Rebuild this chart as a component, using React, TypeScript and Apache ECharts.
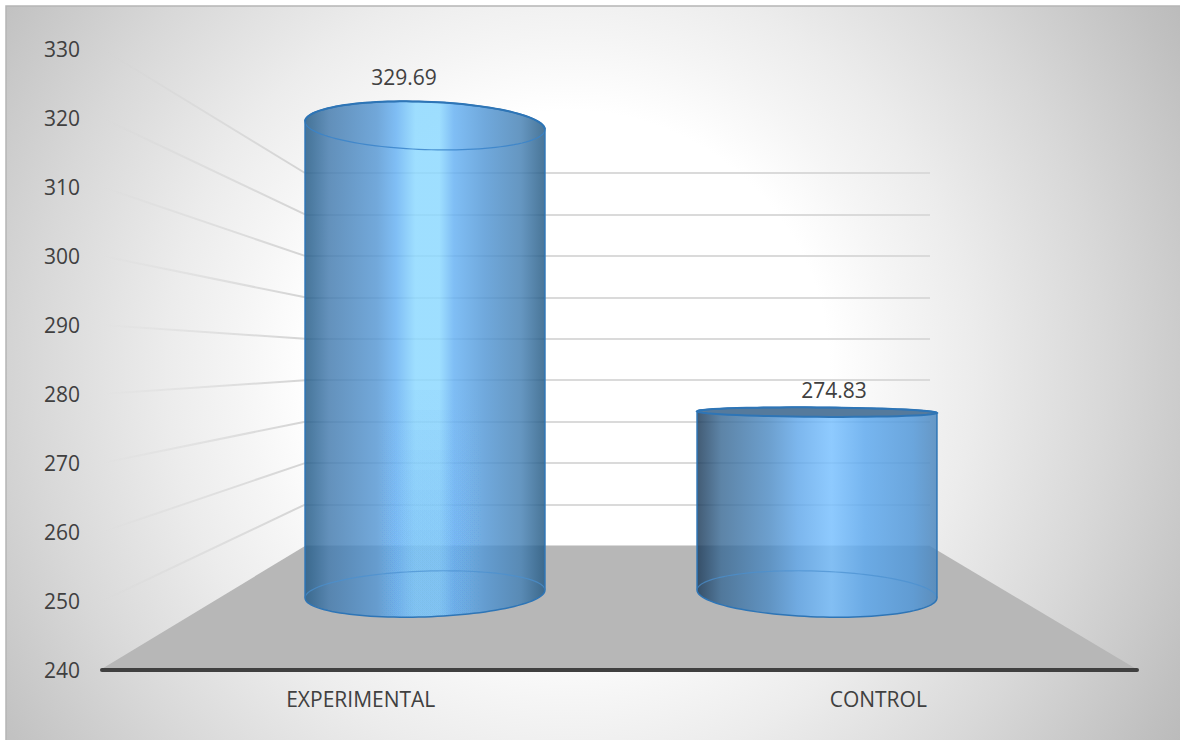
import React, { useEffect, useRef } from "react";
import * as echarts from "echarts";

// Mean scores by group, drawn as glass cylinders standing on a grey floor.
const categories = ["EXPERIMENTAL", "CONTROL"];
const scores = [329.69, 274.83];
const axisMin = 240;
const axisMax = 330;
const axisStep = 10;
const wallTicks = [250, 260, 270, 280, 290, 300, 310, 320, 330];

const FONT = "'Open Sans', sans-serif";
const TEXT = "#404040";

// Perspective of the scene: the horizon height and the point that rims lean away from.
const HORIZON_Y = 365;
const VANISH_X = 620;
const WALL = { left: 305, right: 930, top: 173, bottom: 546 };
const FRONT = { left: 102, right: 1137, top: 49, bottom: 670 };
const MID = { left: 229, right: 1013, top: 124, bottom: 594 };

const wallY = (v: number) =>
  WALL.bottom - ((v - axisMin) / (axisMax - axisMin)) * (WALL.bottom - WALL.top);

// Rim ellipse around (cx, cy); theta 0 is the right end, pi/2 the side nearest the viewer.
function rimPoint(cx: number, cy: number, rx: number, theta: number) {
  const ry = 0.1 * Math.abs(cy - HORIZON_Y);
  const lean = ((cx - VANISH_X) * (cy - HORIZON_Y)) / 11500;
  return [cx + rx * Math.cos(theta), cy + ry * Math.sin(theta) + lean * Math.cos(theta)];
}

function rimArc(cx: number, cy: number, rx: number, from: number, to: number) {
  const pts: number[][] = [];
  const n = 60;
  for (let i = 0; i <= n; i++) pts.push(rimPoint(cx, cy, rx, from + ((to - from) * i) / n));
  return pts;
}

const grad = (stops: [number, string][]) =>
  new echarts.graphic.LinearGradient(
    0,
    0,
    1,
    0,
    stops.map(([offset, color]) => ({ offset, color }))
  );

const bodyFills = [
  grad([
    [0, "#245a85"],
    [0.03, "#2b6391"],
    [0.1, "#447bae"],
    [0.3, "#5697d3"],
    [0.38, "#66b1f3"],
    [0.46, "#8bd8ff"],
    [0.56, "#8bd8ff"],
    [0.62, "#66b1f3"],
    [0.75, "#5397d5"],
    [0.9, "#4681b4"],
    [0.98, "#2b618c"],
    [1, "#245a85"],
  ]),
  grad([
    [0, "#1c3a58"],
    [0.1, "#3c6b95"],
    [0.3, "#4f8cc4"],
    [0.42, "#62a8ea"],
    [0.56, "#78c0ff"],
    [0.7, "#5ca8ee"],
    [0.9, "#4f96d8"],
    [1, "#4a85bc"],
  ]),
];

// The bright stripe dulls gradually towards the floor; stacked veils build that falloff.
const stripeVeil = grad([
  [0.3, "rgba(90,160,232,0)"],
  [0.46, "rgba(90,160,232,0.05)"],
  [0.56, "rgba(90,160,232,0.05)"],
  [0.75, "rgba(90,160,232,0)"],
]);
const VEIL_LAYERS = 8;
const VEIL_START = 390;
const VEIL_STEP = 20;

const labelShift = [
  { x: -21, y: -49 },
  { x: 17, y: -22 },
];

function renderCylinder(params: any, api: any) {
  const i = api.value(0);
  const value = api.value(1);
  const [cx, yTop] = api.coord([i, value]);
  const [, yBase] = api.coord([i, axisMin]);
  const rx = api.size([1, 0])[0] * 0.306;

  const bottomFront = rimArc(cx, yBase, rx, Math.PI, 0);
  const bottomBack = rimArc(cx, yBase, rx, Math.PI, 2 * Math.PI);
  const topBack = rimArc(cx, yTop, rx, 0, -Math.PI);
  const topFront = rimArc(cx, yTop, rx, 0, Math.PI);
  const topAll = rimArc(cx, yTop, rx, 0, 2 * Math.PI);
  const seenFromAbove = yTop > HORIZON_Y;
  const silhouette = [...bottomFront, ...topBack];

  const children: any[] = [
    {
      type: "polygon",
      shape: { points: silhouette },
      style: { fill: bodyFills[i], opacity: 0.83 },
    },
  ];

  if (seenFromAbove) {
    children.push(
      {
        type: "polyline",
        shape: { points: bottomBack },
        style: { fill: "none", stroke: "#4a90d0", lineWidth: 1.2, opacity: 0.7 },
      },
      {
        type: "polygon",
        shape: { points: topAll },
        style: { fill: "#557a9c", stroke: "#2e75b6", lineWidth: 2 },
      }
    );
  } else {
    for (let k = 0; k < VEIL_LAYERS; k++) {
      const y = VEIL_START + k * VEIL_STEP;
      children.push({
        type: "polygon",
        shape: { points: [...bottomFront, [cx + rx, y], [cx - rx, y]] },
        style: { fill: stripeVeil },
      });
    }
    children.push(
      {
        type: "polyline",
        shape: { points: bottomBack },
        style: { fill: "none", stroke: "#4a90d0", lineWidth: 1.2, opacity: 0.7 },
      },
      {
        type: "polyline",
        shape: { points: topFront },
        style: { fill: "none", stroke: "#3a84ca", lineWidth: 1.2, opacity: 0.85 },
      },
      {
        type: "polyline",
        shape: { points: topBack },
        style: { fill: "none", stroke: "#2e75b6", lineWidth: 2 },
      }
    );
  }

  children.push(
    {
      type: "polygon",
      shape: { points: silhouette },
      style: { fill: "none", stroke: "#2e75b6", lineWidth: 1.5 },
    },
    {
      type: "text",
      style: {
        text: value.toFixed(2),
        x: cx + labelShift[i].x,
        y: yTop + labelShift[i].y,
        fill: TEXT,
        fontFamily: FONT,
        fontSize: 21,
        align: "center",
        verticalAlign: "middle",
      },
    }
  );
  return { type: "group", children };
}

// Side-wall rule: runs from the front axis tick back to the same value on the rear wall.
function renderSideRule(params: any, api: any) {
  const v = api.value(0);
  const yFront = api.coord([0, v])[1];
  return {
    type: "line",
    shape: { x1: FRONT.left, y1: yFront, x2: WALL.left, y2: wallY(v) },
    style: {
      lineWidth: 2,
      stroke: new echarts.graphic.LinearGradient(0, 0, 1, 0, [
        { offset: 0, color: "rgba(205,205,205,0)" },
        { offset: 0.35, color: "rgba(205,205,205,0.3)" },
        { offset: 1, color: "rgba(205,205,205,0.85)" },
      ]),
    },
  };
}

function renderFloor(params: any, api: any) {
  const yFront = api.coord([0, axisMin])[1];
  return {
    type: "polygon",
    shape: {
      points: [
        [FRONT.left - 2, yFront],
        [WALL.left, wallY(axisMin)],
        [WALL.right, wallY(axisMin)],
        [FRONT.right + 1, yFront],
      ],
    },
    style: { fill: "#b7b7b7" },
  };
}

function gridBox(b: { left: number; right: number; top: number; bottom: number }) {
  return { left: b.left, top: b.top, width: b.right - b.left, height: b.bottom - b.top };
}

const quietAxis = { axisLine: { show: false }, axisTick: { show: false }, axisLabel: { show: false } };

export default function App() {
  const ref = useRef<HTMLDivElement>(null);
  useEffect(() => {
    document.body.style.margin = "0";
    const chart = echarts.init(ref.current!, undefined, { renderer: "svg" });
    chart.setOption({
      animation: false,
      backgroundColor: "#ffffff",
      graphic: [
        {
          type: "rect",
          z: -10,
          shape: { x: 6, y: 6, width: 1180, height: 740 },
          style: {
            fill: new echarts.graphic.RadialGradient(
              570,
              370,
              720,
              [
                { offset: 0, color: "#ffffff" },
                { offset: 0.36, color: "#ffffff" },
                { offset: 0.46, color: "#f5f5f5" },
                { offset: 0.56, color: "#ececec" },
                { offset: 0.744, color: "#d8d8d8" },
                { offset: 0.944, color: "#c0c0c0" },
                { offset: 1, color: "#bababa" },
              ],
              true
            ),
            stroke: "#b5b5b5",
            lineWidth: 1.5,
          },
        },
      ],
      grid: [gridBox(FRONT), gridBox(MID), gridBox(WALL)],
      xAxis: [
        {
          gridIndex: 0,
          type: "category",
          data: categories,
          z: 5,
          axisLine: { lineStyle: { color: "#404040", width: 4, cap: "round" } },
          axisTick: { show: false },
          axisLabel: { color: TEXT, fontFamily: FONT, fontSize: 21, margin: 18 },
        },
        { gridIndex: 1, type: "category", data: categories, show: false },
        { gridIndex: 2, type: "category", data: categories, ...quietAxis },
      ],
      yAxis: [
        {
          gridIndex: 0,
          type: "value",
          min: axisMin,
          max: axisMax,
          interval: axisStep,
          axisLine: { show: false },
          axisTick: { show: false },
          splitLine: { show: false },
          axisLabel: { color: TEXT, fontFamily: FONT, fontSize: 21, margin: 22 },
        },
        { gridIndex: 1, type: "value", min: axisMin, max: axisMax, interval: axisStep, show: false },
        {
          gridIndex: 2,
          type: "value",
          min: axisMin,
          max: axisMax,
          interval: axisStep,
          ...quietAxis,
          splitLine: { show: true, lineStyle: { color: "#dadada", width: 2 } },
        },
      ],
      series: [
        {
          type: "custom",
          name: "side rules",
          xAxisIndex: 0,
          yAxisIndex: 0,
          z: 1,
          silent: true,
          clip: false,
          renderItem: renderSideRule,
          encode: { y: 0 },
          data: wallTicks.map((v) => [v]),
        },
        {
          type: "custom",
          name: "floor",
          xAxisIndex: 0,
          yAxisIndex: 0,
          z: 2,
          silent: true,
          clip: false,
          renderItem: renderFloor,
          encode: { y: 0 },
          data: [[axisMin]],
        },
        {
          type: "custom",
          name: "score",
          xAxisIndex: 1,
          yAxisIndex: 1,
          z: 3,
          clip: false,
          renderItem: renderCylinder,
          encode: { x: 0, y: 1 },
          data: scores.map((v, i) => [i, v]),
        },
      ],
    });
    return () => chart.dispose();
  }, []);
  return <div ref={ref} style={{ width: 1180, height: 740 }} />;
}
